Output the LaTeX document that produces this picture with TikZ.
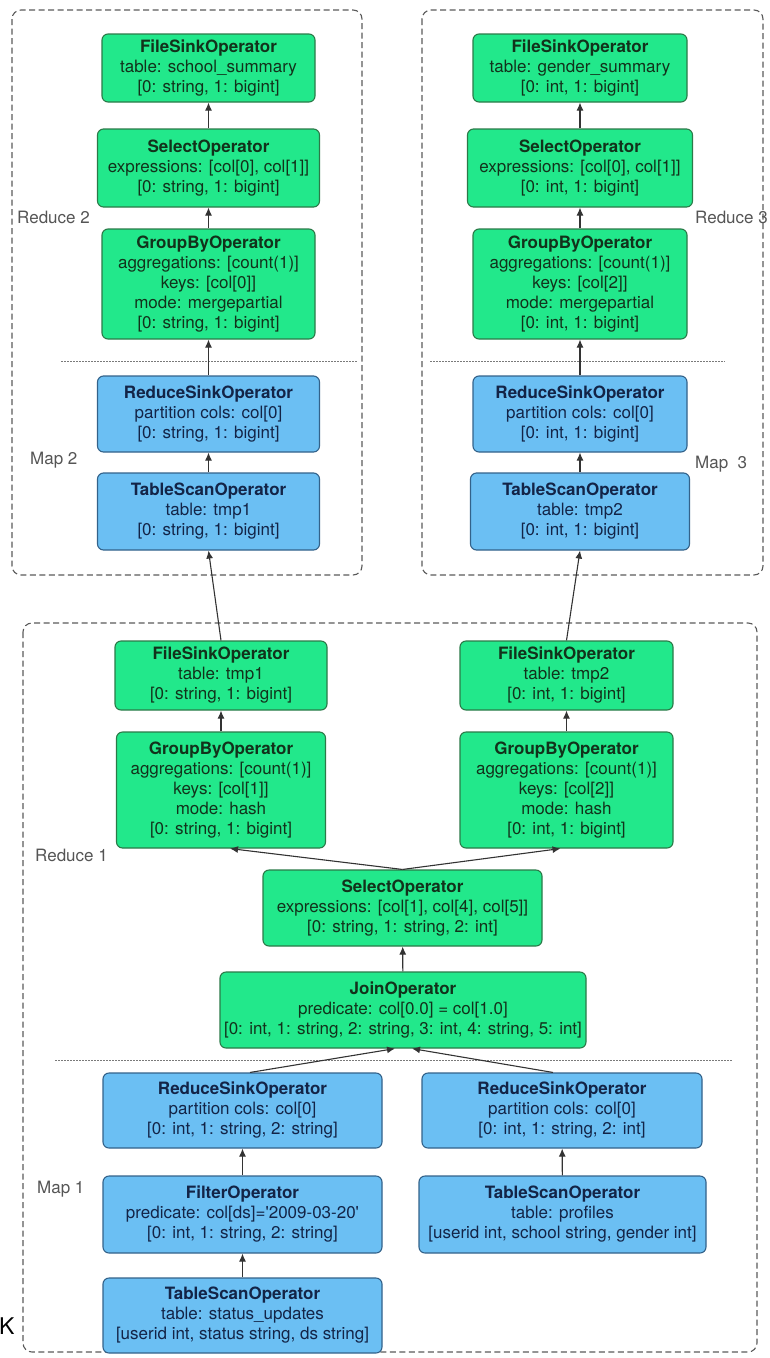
\documentclass[tikz,border=0pt]{standalone}
\usepackage{fontspec}
\setmainfont{TeX Gyre Heros}
\usetikzlibrary{arrows.meta}

\definecolor{rfill}{HTML}{22E88B}
\definecolor{rline}{HTML}{2B7A48}
\definecolor{rtext}{HTML}{12321B}
\definecolor{mfill}{HTML}{6BBFF3}
\definecolor{mline}{HTML}{33628A}
\definecolor{mtext}{HTML}{132447}
\definecolor{stageline}{HTML}{5A5A5A}
\definecolor{sepline}{HTML}{7A7A7A}
\definecolor{tagtext}{HTML}{555555}
\definecolor{flowline}{HTML}{333333}

\tikzset{
  op/.style={draw, rounded corners=6pt, line width=1.1pt, align=center,
    inner sep=0pt, font=\fontsize{17}{20}\selectfont},
  redop/.style={op, fill=rfill, draw=rline, text=rtext},
  mapop/.style={op, fill=mfill, draw=mline, text=mtext},
  stage/.style={draw=stageline, line width=1.1pt, dash pattern=on 6pt off 3.5pt,
    rounded corners=9pt},
  phase/.style={draw=sepline, line width=1pt, dash pattern=on 1.5pt off 1.5pt},
  tag/.style={anchor=west, text=tagtext, inner sep=0pt,
    font=\fontsize{17}{20}\selectfont},
  flow/.style={draw=flowline, line width=1.1pt, -{Latex[length=8pt,width=7pt]}},
}

\begin{document}
\begin{tikzpicture}[x=1pt,y=-1pt]
\useasboundingbox (0,0) rectangle (769,1358);

% stage frames
\draw[stage] (12,10) rectangle (362,575);
\draw[stage] (422,10) rectangle (763,575);
\draw[stage] (23,623) rectangle (757,1352);

% map / reduce separators
\draw[phase] (61,361) -- (357,361);
\draw[phase] (430,361) -- (725,361);
\draw[phase] (55,1060) -- (732,1060);

% stage labels
\node[tag] (lr2) at (17,217) {Reduce 2};
\node[tag] (lm2) at (30,460) {Map 2};
\node[tag] (lr3) at (695,217) {Reduce 3};
\node[tag] (lm3) at (695,464) {Map~~3};
\node[tag] (lr1) at (35,855) {Reduce 1};
\node[tag] (lm1) at (37,1189) {Map 1};
\node[anchor=west, inner sep=0pt, font=\fontsize{23}{25}\selectfont] (k) at (-1,1326) {K};

% job 2: school summary
\node[redop, minimum width=213pt, minimum height=68pt] (fs2) at (208.5,68)
  {\textbf{FileSinkOperator}\\table: school\_summary\\{[0: string, 1: bigint]}};
\node[redop, minimum width=222pt, minimum height=78pt] (sel2) at (208.5,168)
  {\textbf{SelectOperator}\\expressions: {[col[0], col[1]]}\\{[0: string, 1: bigint]}};
\node[redop, minimum width=213pt, minimum height=110pt] (gb2) at (208.5,284)
  {\textbf{GroupByOperator}\\aggregations: {[count(1)]}\\keys: {[col[0]]}\\mode: mergepartial\\{[0: string, 1: bigint]}};
\node[mapop, minimum width=222pt, minimum height=76pt] (rs2) at (208.5,414)
  {\textbf{ReduceSinkOperator}\\partition cols: col[0]\\{[0: string, 1: bigint]}};
\node[mapop, minimum width=222pt, minimum height=77pt] (ts2) at (208.5,511.5)
  {\textbf{TableScanOperator}\\table: tmp1\\{[0: string, 1: bigint]}};

% job 3: gender summary
\node[redop, minimum width=214pt, minimum height=68pt] (fs3) at (580,68)
  {\textbf{FileSinkOperator}\\table: gender\_summary\\{[0: int, 1: bigint]}};
\node[redop, minimum width=225pt, minimum height=78pt] (sel3) at (580,168)
  {\textbf{SelectOperator}\\expressions: {[col[0], col[1]]}\\{[0: int, 1: bigint]}};
\node[redop, minimum width=214pt, minimum height=110pt] (gb3) at (580,284)
  {\textbf{GroupByOperator}\\aggregations: {[count(1)]}\\keys: {[col[2]]}\\mode: mergepartial\\{[0: int, 1: bigint]}};
\node[mapop, minimum width=214pt, minimum height=76pt] (rs3) at (580,414)
  {\textbf{ReduceSinkOperator}\\partition cols: col[0]\\{[0: int, 1: bigint]}};
\node[mapop, minimum width=219pt, minimum height=77pt] (ts3) at (580,511.5)
  {\textbf{TableScanOperator}\\table: tmp2\\{[0: int, 1: bigint]}};

% job 1: join and partial aggregation
\node[redop, minimum width=212pt, minimum height=69pt] (fs1a) at (221,675.5)
  {\textbf{FileSinkOperator}\\table: tmp1\\{[0: string, 1: bigint]}};
\node[redop, minimum width=209pt, minimum height=116pt] (gb1a) at (221,790)
  {\textbf{GroupByOperator}\\aggregations: {[count(1)]}\\keys: {[col[1]]}\\mode: hash\\{[0: string, 1: bigint]}};
\node[redop, minimum width=213pt, minimum height=69pt] (fs1b) at (566.5,675.5)
  {\textbf{FileSinkOperator}\\table: tmp2\\{[0: int, 1: bigint]}};
\node[redop, minimum width=213pt, minimum height=116pt] (gb1b) at (566.5,790)
  {\textbf{GroupByOperator}\\aggregations: {[count(1)]}\\keys: {[col[2]]}\\mode: hash\\{[0: int, 1: bigint]}};
\node[redop, minimum width=279pt, minimum height=76pt] (sel1) at (402.5,908)
  {\textbf{SelectOperator}\\expressions: {[col[1], col[4], col[5]]}\\{[0: string, 1: string, 2: int]}};
\node[redop, minimum width=366pt, minimum height=76pt] (join) at (403,1010)
  {\textbf{JoinOperator}\\predicate: col[0.0] = col[1.0]\\{[0: int, 1: string, 2: string, 3: int, 4: string, 5: int]}};
\node[mapop, minimum width=279pt, minimum height=75pt] (rsa) at (242.5,1110.5)
  {\textbf{ReduceSinkOperator}\\partition cols: col[0]\\{[0: int, 1: string, 2: string]}};
\node[mapop, minimum width=280pt, minimum height=75pt] (rsb) at (562,1110.5)
  {\textbf{ReduceSinkOperator}\\partition cols: col[0]\\{[0: int, 1: string, 2: int]}};
\node[mapop, minimum width=279pt, minimum height=77pt] (filt) at (242.5,1214.5)
  {\textbf{FilterOperator}\\predicate: col[ds]=\textquotesingle 2009-03-20\textquotesingle\\{[0: int, 1: string, 2: string]}};
\node[mapop, minimum width=279pt, minimum height=75pt] (tsa) at (242.5,1315.5)
  {\textbf{TableScanOperator}\\table: status\_updates\\{[userid int, status string, ds string]}};
\node[mapop, minimum width=287pt, minimum height=77pt] (tsb) at (562.5,1214.5)
  {\textbf{TableScanOperator}\\table: profiles\\{[userid int, school string, gender int]}};

% data flow
\draw[flow] (sel2) -- (fs2);
\draw[flow] (gb2) -- (sel2);
\draw[flow] (rs2) -- (gb2);
\draw[flow] (ts2) -- (rs2);
\draw[flow] (sel3) -- (fs3);
\draw[flow] (gb3) -- (sel3);
\draw[flow] (rs3) -- (gb3);
\draw[flow] (ts3) -- (rs3);
\draw[flow] (fs1a.north) -- (ts2.south);
\draw[flow] (fs1b.north) -- (ts3.south);
\draw[flow] (gb1a) -- (fs1a);
\draw[flow] (gb1b) -- (fs1b);
\draw[flow] (sel1.north) -- ([xshift=9pt]gb1a.south);
\draw[flow] (sel1.north) -- ([xshift=-6pt]gb1b.south);
\draw[flow] (join) -- (sel1);
\draw[flow] ([xshift=7.5pt]rsa.north) -- ([xshift=-8pt]join.south);
\draw[flow] ([xshift=-9pt]rsb.north) -- ([xshift=9pt]join.south);
\draw[flow] (filt) -- (rsa);
\draw[flow] (tsa) -- (filt);
\draw[flow] (tsb) -- (rsb);
\end{tikzpicture}
\end{document}
